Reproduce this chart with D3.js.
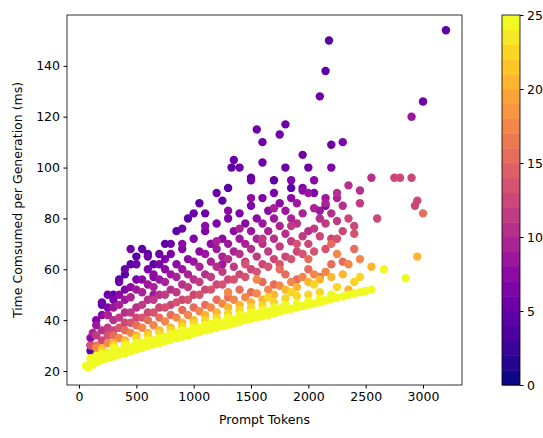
<!DOCTYPE html>
<html><head><meta charset="utf-8">
<script src="https://cdn.jsdelivr.net/npm/d3@7"></script>
<style>body{margin:0;background:#fff}text{font-family:"DejaVu Sans",sans-serif}</style>
</head><body><svg id="c" width="543" height="438"></svg>
<script>
// points: [prompt tokens, time ms] per color level
const pts25 = [[60,22],[80,21.5],[100,23],[120,22.5],[150,23.5],[180,24],[200,24.5],[250,25],[280,25.5],[300,25.8],[350,26.5],[400,27],[450,27.8],[500,28.5],[550,29],[600,29.8],[650,30.5],[700,31],[750,31.8],[800,32.3],[850,33],[900,33.5],[950,34],[1000,34.8],[1050,35.3],[1100,36],[1150,36.5],[1200,37],[1250,37.6],[1300,38.2],[1350,38.8],[1400,39.3],[1450,40],[1500,40.5],[1550,41],[1600,41.5],[1650,42],[1700,42.7],[1750,43.3],[1800,44],[1850,44.5],[1900,45],[1950,45.5],[2000,46],[2050,46.5],[2100,47],[2150,47.7],[2200,48.3],[2250,48.8],[2300,49.3],[2350,50],[2400,50.5],[2450,51],[2500,51.5],[2550,52],[2850,56.5],[150,26],[300,29],[400,30],[500,31],[600,32],[700,33],[800,34.5],[900,36],[1000,37],[1100,38],[1200,39.5],[1300,41],[1400,42],[1500,43],[1600,44],[1700,45],[1800,46],[2000,47.5],[2200,50],[2660,60],[250,27],[350,28],[450,29.5],[550,31],[650,32],[750,33.5],[850,35],[950,35.5],[1050,37],[1150,38.5],[1250,39],[1350,40],[1450,41.5],[1550,42.5],[1650,43.5],[1750,44.5],[1900,46.5],[2100,48.5],[100,25],[200,26.5]];
const pts22 = [[200,28],[300,30],[400,31],[500,33],[600,34],[700,35],[800,36],[900,37.5],[1000,39],[1100,40],[1200,41],[1300,42.5],[1400,44],[1500,45],[1600,46],[1700,47],[1800,48.5],[1900,49.5],[2000,50],[2100,51],[2250,53],[2400,55],[2450,57],[2050,54],[1850,51],[1650,49]];
const pts20 = [[2950,65],[2550,61],[2300,58],[2100,56],[2350,52],[1800,52],[1600,48],[1400,46],[1200,43],[1000,40],[800,37],[600,35],[400,32],[200,29],[1900,53],[1700,50],[1500,47],[1300,45],[1100,42],[900,39],[700,36],[500,34],[300,31],[2000,55],[2200,57]];
const pts17 = [[150,29],[250,31],[350,33],[450,35],[550,37],[650,38],[750,39.5],[850,41],[950,42],[1050,43.5],[1150,45],[1250,46.5],[1350,48],[1450,49],[1550,50.5],[1650,52],[1750,53.5],[1850,55],[1950,57],[2050,58],[2150,59],[2350,62],[2450,64],[2250,66],[1550,56],[1300,51]];
const pts15 = [[2200,62],[2100,57],[2300,63],[2000,60],[1800,58],[1600,55],[1400,52],[1200,48],[1000,45],[800,42],[600,40],[400,36],[3000,82],[2400,68],[2200,70],[1900,56],[1700,54],[1500,51],[1300,49],[1100,46],[900,44],[700,41],[500,38],[300,34],[150,30],[2000,64],[1750,60]];
const pts13 = [[100,30],[250,34],[350,37],[450,39],[550,41],[650,43],[750,45],[850,47],[950,48],[1050,50],[1150,52],[1250,54],[1350,56],[1450,57],[1550,59],[1650,61],[1750,62],[1850,64],[1950,66],[2050,67],[2150,68],[2250,72],[2400,74],[1450,62],[1900,70]];
const pts12 = [[2900,96],[2950,87],[2930,85],[2750,96],[2800,96],[2600,80],[2400,77],[2300,75],[2200,72],[2000,70],[1800,65],[1600,62],[1400,58],[1200,54],[1000,50],[800,46],[600,43],[400,39],[200,32],[1900,67],[1700,64],[1500,60],[1300,56],[1100,52],[900,48],[700,45],[500,41],[300,36],[2100,73],[2350,80]];
const pts11 = [[150,34],[250,37],[350,41],[450,43],[550,46],[650,48],[750,50],[850,51],[950,53],[1050,55],[1150,57],[1250,59],[1350,61],[1450,63],[1550,65],[1650,67],[1750,69],[1850,71],[1950,73],[2050,76],[2150,78],[2250,79],[2450,86],[1600,72],[1850,77]];
const pts10 = [[2550,96],[2450,91],[2350,93],[2300,85],[2100,80],[1900,78],[1700,72],[1500,68],[1300,64],[1100,58],[900,54],[700,50],[500,45],[300,40],[2250,90],[2000,75],[1800,74],[1600,70],[1400,66],[1200,61],[1000,56],[800,52],[600,48],[400,43],[200,36],[2200,82]];
const pts9 = [[120,35],[250,42],[350,46],[450,49],[550,51],[650,53],[750,55],[850,57],[950,58],[1050,61],[1150,63],[1250,65],[1350,67],[1450,70],[1550,72],[1650,75],[1750,77],[1850,80],[1950,82],[2050,84],[2150,86],[2250,88],[1400,76],[1700,84],[1200,71]];
const pts8 = [[2900,120],[2150,88],[2000,90],[1900,86],[1700,80],[1500,75],[1300,70],[1100,66],[900,60],[700,56],[500,52],[300,45],[150,38],[2100,83],[1800,83],[1600,78],[1400,72],[1200,68],[1000,63],[800,58],[600,54],[400,48],[250,42],[650,50],[1250,62]];
const pts7 = [[100,33],[200,42],[350,50],[450,53],[550,56],[650,58],[750,60],[850,62],[950,64],[1050,67],[1150,70],[1250,72],[1350,75],[1450,78],[1550,80],[1650,83],[1750,86],[1850,88],[1950,91],[2050,95],[1500,88],[1300,83],[1100,77],[900,70]];
const pts6 = [[2300,110],[2200,100],[2050,90],[1850,95],[1700,90],[1500,85],[1300,80],[1100,75],[900,68],[700,62],[500,56],[300,48],[150,40],[2150,85],[1950,92],[1600,88],[1400,82],[1200,78],[1000,72],[800,66],[600,60],[400,52],[250,45],[1150,70],[650,57],[750,64]];
const pts5 = [[3000,126],[2100,128],[2200,109],[1800,117],[1750,113],[1600,110],[1400,100],[1200,90],[1000,82],[800,70],[600,65],[450,68],[400,60],[250,50],[100,30],[1600,102],[1950,105],[1550,115],[1350,103],[1100,82],[900,76],[700,66],[500,62],[350,55],[200,47],[1500,95],[1800,100],[2000,100]];
const pts4 = [[2180,150],[3200,154],[2150,138],[1330,100],[1300,92],[1050,86],[850,75],[550,68],[350,56],[200,46],[1500,96],[1700,95],[1250,87],[950,80],[750,70],[650,62],[450,62],[100,28],[300,50],[1850,92],[500,65],[600,66],[400,58]];
const groups = [[4,pts4],[5,pts5],[6,pts6],[7,pts7],[8,pts8],[9,pts9],[10,pts10],[11,pts11],[12,pts12],[13,pts13],[15,pts15],[17,pts17],[20,pts20],[22,pts22],[25,pts25]];
const xTicks=[0,500,1000,1500,2000,2500,3000], yTicks=[20,40,60,80,100,120,140], cTicks=[0,5,10,15,20,25];

const svg=d3.select("#c");
const L=67,R=462,T=15,B=385;
const x=d3.scaleLinear().domain([-105,3340]).range([L,R]);
const y=d3.scaleLinear().domain([14.5,160]).range([B,T]);
const nb=25;
const col=v=>d3.interpolatePlasma(Math.min(nb-1,Math.floor(v/25*nb))/(nb-1));

const g=svg.append("g");
groups.forEach(([lv,arr])=>{
  g.selectAll(null).data(arr).enter().append("circle")
   .attr("cx",d=>x(d[0])).attr("cy",d=>y(d[1])).attr("r",4.2).attr("fill",col(lv));
});
svg.append("rect").attr("x",L).attr("y",T).attr("width",R-L).attr("height",B-T).attr("fill","none").attr("stroke","#000").attr("stroke-width",0.8);
const xa=svg.append("g").attr("transform",`translate(0,${B})`).call(d3.axisBottom(x).tickValues(xTicks).tickFormat(d3.format("d")).tickSize(3.5).tickPadding(3.5));
const ya=svg.append("g").attr("transform",`translate(${L},0)`).call(d3.axisLeft(y).tickValues(yTicks).tickFormat(d3.format("d")).tickSize(3.5).tickPadding(3.5));
[xa,ya].forEach(a=>{a.select(".domain").remove();a.selectAll("text").attr("font-size",12.5).attr("fill","#000").attr("font-family","DejaVu Sans");});
svg.append("text").attr("x",(L+R)/2).attr("y",424).attr("text-anchor","middle").attr("font-size",12.5).text("Prompt Tokens");
svg.append("text").attr("transform",`translate(22,${(T+B)/2}) rotate(-90)`).attr("text-anchor","middle").attr("font-size",12.5).text("Time Comsumed per Generation (ms)");

// colorbar
const cx0=502,cw=18;
const cy=d3.scaleLinear().domain([0,25]).range([B,T]);
const bands=d3.range(nb);
svg.append("g").selectAll("rect").data(bands).enter().append("rect")
 .attr("x",cx0).attr("width",cw).attr("y",i=>cy((i+1)*25/nb)).attr("height",i=>cy(i*25/nb)-cy((i+1)*25/nb)+0.5)
 .attr("fill",i=>d3.interpolatePlasma(i/(nb-1)));
svg.append("rect").attr("x",cx0).attr("y",T).attr("width",cw).attr("height",B-T).attr("fill","none").attr("stroke","#000").attr("stroke-width",0.8);
const ca=svg.append("g").attr("transform",`translate(${cx0+cw},0)`).call(d3.axisRight(cy).tickValues(cTicks).tickSize(3.5).tickPadding(3.5));
ca.select(".domain").remove();ca.selectAll("text").attr("font-size",12.5).attr("fill","#000");
</script></body></html>
